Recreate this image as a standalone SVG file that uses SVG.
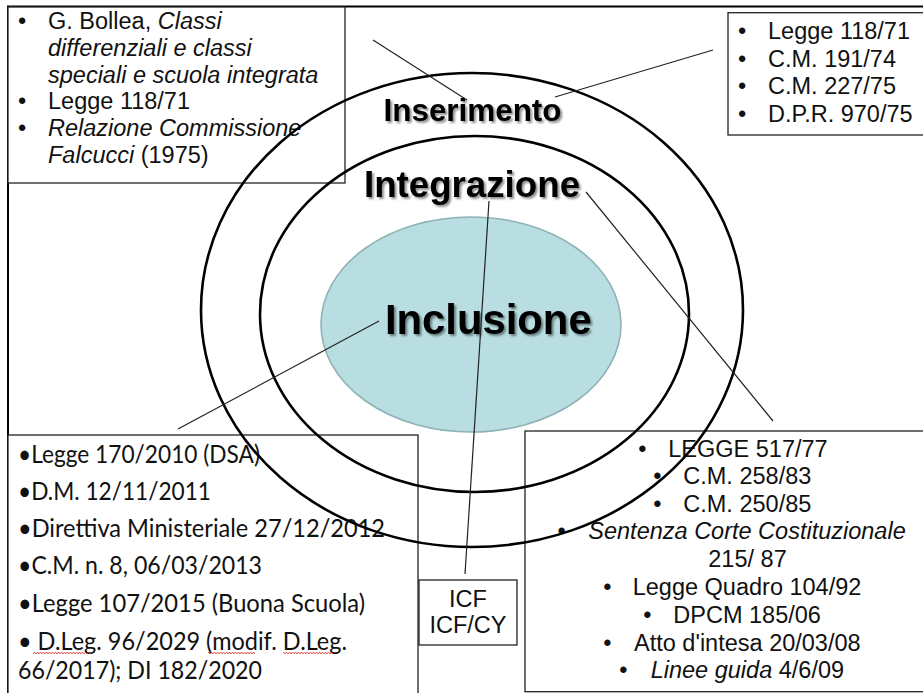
<svg xmlns="http://www.w3.org/2000/svg" width="923" height="693" viewBox="0 0 923 693">
<defs>
<style>
.box{fill:#fff;stroke:#222;stroke-width:1.3}
.ring{fill:none;stroke:#000;stroke-width:2.6}
.conn{stroke:#222;stroke-width:1.2;fill:none}
.t{font-family:"Liberation Sans",Arial,sans-serif;font-size:23.5px;fill:#111}
.c{font-family:Lato,"Liberation Sans",sans-serif;font-size:25px;fill:#111}
.i{font-style:italic}
.big{font-family:"Liberation Sans",Arial,sans-serif;font-weight:bold;fill:#000;text-anchor:middle;filter:url(#sh)}
.m{text-anchor:middle}
</style>
<filter id="sh" x="-10%" y="-30%" width="120%" height="160%">
<feDropShadow dx="2" dy="2" stdDeviation="1.3" flood-color="#000" flood-opacity="0.45"/>
</filter>
<pattern id="sq" width="3" height="4" patternUnits="userSpaceOnUse" x="0" y="651">
<path d="M0,3 L1.5,1 L3,3" fill="none" stroke="#e03030" stroke-width="0.8"/>
</pattern>
</defs>
<rect width="923" height="693" fill="#fff"/>
<rect x="8" y="6.5" width="930" height="700" fill="none" stroke="#000" stroke-width="2"/>

<g id="box-topleft">
<rect class="box" x="8" y="7" width="337" height="176"/>
<text class="t m" x="22" y="29.3">•</text>
<text class="t" x="48" y="29.3">G. Bollea, <tspan class="i">Classi</tspan></text>
<text class="t i" x="48" y="56">differenziali e classi</text>
<text class="t i" x="48" y="82.5">speciali e scuola integrata</text>
<text class="t m" x="22" y="109">•</text>
<text class="t" x="48" y="109">Legge 118/71</text>
<text class="t m" x="22" y="136">•</text>
<text class="t i" x="48" y="136">Relazione Commissione</text>
<text class="t" x="48" y="163"><tspan class="i">Falcucci</tspan> (1975)</text>
</g>

<g id="box-topright">
<rect class="box" x="728" y="12.7" width="200" height="122.3"/>
<text class="t m" x="742" y="39">•</text>
<text class="t" x="768" y="39">Legge 118/71</text>
<text class="t m" x="742" y="66.7">•</text>
<text class="t" x="768" y="66.7">C.M. 191/74</text>
<text class="t m" x="742" y="94">•</text>
<text class="t" x="768" y="94">C.M. 227/75</text>
<text class="t m" x="742" y="121.5">•</text>
<text class="t" x="768" y="121.5">D.P.R. 970/75</text>
</g>

<g id="box-bottomleft">
<rect class="box" x="8" y="435" width="410" height="270"/>
<text class="c" x="18" y="463" textLength="242" lengthAdjust="spacingAndGlyphs">•Legge 170/2010 (DSA)</text>
<text class="c" x="18" y="500" textLength="193" lengthAdjust="spacingAndGlyphs">•D.M. 12/11/2011</text>
<text class="c" x="18" y="537" textLength="367" lengthAdjust="spacingAndGlyphs">•Direttiva Ministeriale 27/12/2012</text>
<text class="c" x="18" y="573.5" textLength="244" lengthAdjust="spacingAndGlyphs">•C.M. n. 8, 06/03/2013</text>
<text class="c" x="18" y="612" textLength="347" lengthAdjust="spacingAndGlyphs">•Legge 107/2015 (Buona Scuola)</text>
<text class="c" x="18" y="650" textLength="329" lengthAdjust="spacingAndGlyphs">• D.Leg. 96/2029 (modif. D.Leg.</text>
<rect x="33" y="651.5" width="59" height="4" fill="url(#sq)"/>
<rect x="208" y="651.5" width="47" height="4" fill="url(#sq)"/>
<rect x="283" y="651.5" width="50" height="4" fill="url(#sq)"/>
<text class="c" x="18" y="679" textLength="244" lengthAdjust="spacingAndGlyphs">66/2017); DI 182/2020</text>
</g>

<g id="box-icf">
<rect class="box" x="419" y="580" width="98" height="65"/>
<text class="t m" x="468" y="606.7">ICF</text>
<text class="t m" x="468" y="633.3">ICF/CY</text>
</g>

<g id="box-bottomright">
<rect class="box" x="525" y="431" width="405" height="260.7"/>
<text class="t m" x="642.3" y="456.7">•</text>
<text class="t" x="668.3" y="456.7">LEGGE 517/77</text>
<text class="t m" x="657.3" y="484">•</text>
<text class="t" x="683.3" y="484">C.M. 258/83</text>
<text class="t m" x="657.3" y="511.7">•</text>
<text class="t" x="683.3" y="511.7">C.M. 250/85</text>
<text class="t m" x="561.7" y="539">•</text>
<text class="t i" x="588.3" y="539">Sentenza Corte Costituzionale</text>
<text class="t" x="708.3" y="566.7">215/ 87</text>
<text class="t m" x="607.3" y="595">•</text>
<text class="t" x="632.7" y="595">Legge Quadro 104/92</text>
<text class="t m" x="647.3" y="622.7">•</text>
<text class="t" x="673.3" y="622.7">DPCM 185/06</text>
<text class="t m" x="607.3" y="650.5">•</text>
<text class="t" x="634" y="650.5">Atto d'intesa 20/03/08</text>
<text class="t m" x="623.3" y="678.3">•</text>
<text class="t" x="650.7" y="678.3"><tspan class="i">Linee guida</tspan> 4/6/09</text>
</g>

<g id="node-inserimento">
<ellipse class="ring" cx="472" cy="310" rx="271" ry="237"/>
<text class="big" x="472.5" y="120.5" font-size="31.4">Inserimento</text>
</g>

<g id="node-integrazione">
<ellipse class="ring" cx="474.5" cy="314" rx="214.5" ry="178"/>
<text class="big" x="472" y="197" font-size="36.7">Integrazione</text>
</g>

<g id="node-inclusione">
<ellipse cx="471" cy="324.5" rx="150" ry="107.5" fill="#b8dee2" stroke="#8db3b6" stroke-width="1.6"/>
<text class="big" x="488.3" y="334" font-size="41.8">Inclusione</text>
</g>

<g id="connectors">
<line class="conn" x1="373" y1="40" x2="467" y2="100"/>
<line class="conn" x1="555" y1="97" x2="713" y2="50"/>
<line class="conn" x1="586" y1="192" x2="773" y2="421"/>
<line class="conn" x1="489" y1="201" x2="465" y2="574"/>
<line class="conn" x1="379" y1="321" x2="178" y2="429"/>
</g>
</svg>
